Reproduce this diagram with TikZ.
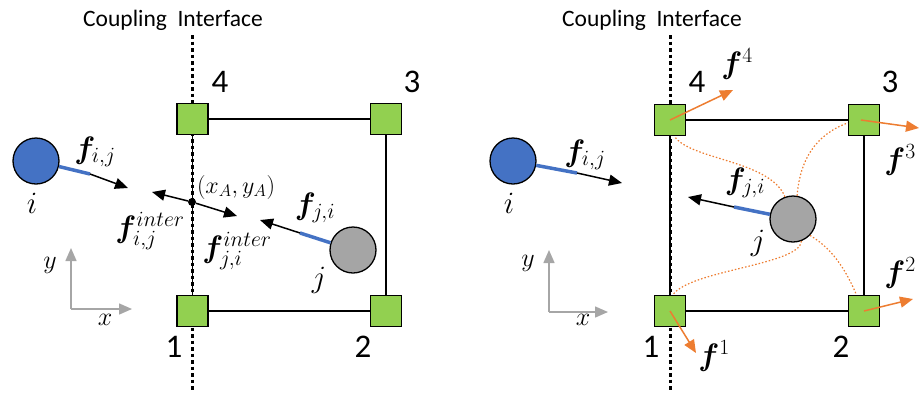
\RequirePackage{fix-cm}
\documentclass[tikz,border=0pt]{standalone}
\usepackage{amsmath}
\usepackage{bm}
\usepackage{fontspec}
\setmainfont{Carlito}
\usetikzlibrary{arrows.meta}
\definecolor{nodegreen}{HTML}{92D050}
\definecolor{pblue}{HTML}{4472C4}
\definecolor{pgray}{HTML}{A5A5A5}
\definecolor{porange}{HTML}{ED7D31}
\definecolor{axgray}{HTML}{A6A6A6}
\begin{document}
\begin{tikzpicture}[x=1pt,y=-1pt,
  sq/.style={draw,line width=1.3pt,fill=nodegreen,minimum size=31pt,inner sep=0pt},
  ball/.style={circle,draw,line width=1.3pt,minimum size=46pt,inner sep=0pt},
  edgeline/.style={line width=1.3pt},
  iface/.style={line width=3pt,dash pattern=on 3.5pt off 3pt},
  bond/.style={pblue,line width=3.5pt},
  force/.style={line width=1.5pt,-{Triangle[length=13pt,width=11pt]}},
  oforce/.style={porange,line width=1.5pt,-{Triangle[length=13pt,width=11pt]}},
  spring/.style={porange,line width=1.2pt,dash pattern=on 1.5pt off 2pt},
  axis/.style={axgray,line width=1.5pt,-{Triangle[length=13pt,width=11pt]}},
  num/.style={font=\fontsize{33}{35}\selectfont,inner sep=0pt},
  lab/.style={font=\fontsize{31}{34}\selectfont,inner sep=0pt},
  small/.style={font=\fontsize{24}{28}\selectfont,inner sep=0pt},
  axlab/.style={font=\fontsize{26}{30}\selectfont,inner sep=0pt},
  title/.style={font=\fontsize{23.5}{26}\selectfont,inner sep=0pt,anchor=west}
]
\useasboundingbox (0,0) rectangle (922,392);

% ================= LEFT PANEL =================
\node[title] (tl) at (83,20) {Coupling\hspace{0.45em}Interface};
\coordinate (ltop) at (192.5,35);
\coordinate (lbot) at (192.5,392);
\node[sq] (l4) at (192.5,119) {};
\node[sq] (l3) at (386,119) {};
\node[sq] (l1) at (192.5,311) {};
\node[sq] (l2) at (386,311) {};
\draw[edgeline] (l4) -- (l3) -- (l2) -- (l1) -- (l4);
\draw[iface] (ltop) -- (lbot);
\node[sq] at (l4) {};
\node[sq] at (l3) {};
\node[sq] at (l1) {};
\node[sq] at (l2) {};
\node[num] at (220,82) {4};
\node[num] at (412,82) {3};
\node[num] at (174,347) {1};
\node[num] at (363,347) {2};

\node[ball,fill=pblue] (li) at (36,161) {};
\node[ball,fill=pgray] (lj) at (353,250) {};
\coordinate (lbi) at (90,174);
\coordinate (lti) at (128,188);
\coordinate (lbj) at (300,233);
\coordinate (ltj) at (260,220);
\draw[bond] (li) -- (lbi);
\draw[force] (lbi) -- (lti);
\draw[bond] (lj) -- (lbj);
\draw[force] (lbj) -- (ltj);
\node[lab] at (32,203) {$i$};
\node[lab] at (319,280) {$j$};
\node[lab] at (95,152) {$\boldsymbol{f}_{i,j}$};
\node[lab] at (315,208) {$\boldsymbol{f}_{j,i}$};

\node[circle,fill=black,minimum size=8pt,inner sep=0pt] (A) at (192,202) {};
\coordinate (lia) at (152,192);
\coordinate (lja) at (237,216);
\draw[force] (A) -- (lia);
\draw[force] (A) -- (lja);
\node[small] at (236,187) {$(x_A,y_A)$};
\node[lab] at (150,231) {$\boldsymbol{f}^{inter}_{i,j}$};
\node[lab] at (237,251) {$\boldsymbol{f}^{inter}_{j,i}$};

\coordinate (lo) at (71,309);
\coordinate (lyt) at (71,248);
\coordinate (lxt) at (132,309);
\draw[axis] (lo) -- (lyt);
\draw[axis] (lo) -- (lxt);
\node[axlab] at (50,265) {$y$};
\node[axlab] at (105,320) {$x$};

% ================= RIGHT PANEL =================
\node[title] (tr) at (562,20) {Coupling\hspace{0.45em}Interface};
\coordinate (rtop) at (670,35);
\coordinate (rbot) at (670,392);
\node[sq] (r4) at (670,120) {};
\node[sq] (r3) at (864,120) {};
\node[sq] (r1) at (670,311) {};
\node[sq] (r2) at (864,311) {};
\draw[edgeline] (r4) -- (r3) -- (r2) -- (r1) -- (r4);
\draw[iface] (rtop) -- (rbot);
\node[sq] at (r4) {};
\node[sq] at (r3) {};
\node[sq] at (r1) {};
\node[sq] at (r2) {};
\node[num] at (697,82) {4};
\node[num] at (890,82) {3};
\node[num] at (651,347) {1};
\node[num] at (841,347) {2};

\node[ball,fill=pblue] (ri) at (513,161) {};
\node[ball,fill=pgray] (rj) at (793,219) {};
\coordinate (rbi) at (577,173);
\coordinate (rti) at (622,183);
\coordinate (rbj) at (734,207);
\coordinate (rtj) at (688,197);
\draw[bond] (ri) -- (rbi);
\draw[force] (rbi) -- (rti);
\draw[bond] (rj) -- (rbj);
\draw[force] (rbj) -- (rtj);
\node[lab] at (509,203) {$i$};
\node[lab] at (758,243) {$j$};
\node[lab] at (585,155) {$\boldsymbol{f}_{i,j}$};
\node[lab] at (745,183) {$\boldsymbol{f}_{j,i}$};

\draw[spring] (rj.110) .. controls (770,160) and (690,160) .. (r4.-75);
\draw[spring] (rj.80) .. controls (800,160) and (815,135) .. (r3.190);
\draw[spring] (rj.-69) .. controls (800,265) and (690,270) .. (r1.80);
\draw[spring] (rj.-44) .. controls (835,250) and (848,275) .. (r2.115);

\coordinate (f4) at (733,90);
\coordinate (f3) at (919,128);
\coordinate (f2) at (913,299);
\coordinate (f1) at (696,353);
\draw[oforce] (r4.center) -- (f4);
\draw[oforce] ([xshift=-3pt]r3.center) -- (f3);
\draw[oforce] (r2.center) -- (f2);
\draw[oforce] (r1.center) -- (f1);
\node[lab] at (737,64) {$\boldsymbol{f}^{4}$};
\node[lab] at (900,160) {$\boldsymbol{f}^{3}$};
\node[lab] at (900,273) {$\boldsymbol{f}^{2}$};
\node[lab] at (714,356) {$\boldsymbol{f}^{1}$};

\coordinate (ro) at (549,312);
\coordinate (ryt) at (549,250);
\coordinate (rxt) at (608,312);
\draw[axis] (ro) -- (ryt);
\draw[axis] (ro) -- (rxt);
\node[axlab] at (528,263) {$y$};
\node[axlab] at (583,320) {$x$};
\end{tikzpicture}
\end{document}
